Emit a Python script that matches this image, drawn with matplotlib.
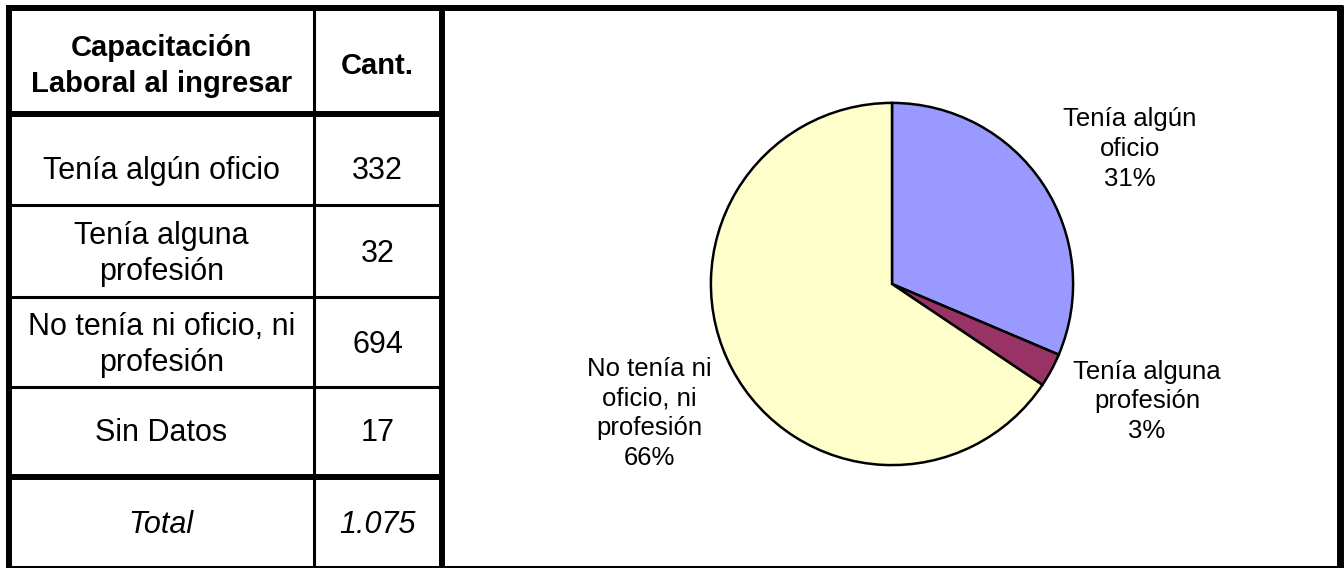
import numpy as np
import matplotlib.pyplot as plt

plt.rcParams['font.family'] = ['Liberation Sans', 'DejaVu Sans']

# datos de la tabla
header = ["Capacitación\nLaboral al ingresar", "Cant."]
categorias = ["Tenía algún oficio", "Tenía alguna\nprofesión",
              "No tenía ni oficio, ni\nprofesión", "Sin Datos"]
cantidades = [332, 32, 694, 17]
total_txt = ["Total", "1.075"]

# datos del grafico (sin "Sin Datos")
pie_valores = [332, 32, 694]
pie_nombres = ["Tenía algún\noficio", "Tenía alguna\nprofesión", "No tenía ni\noficio, ni\nprofesión"]
pie_colores = ['#9999FF', '#993366', '#FFFFCC']

W, H = 1344, 568
fig = plt.figure(figsize=(W / 100, H / 100), dpi=100)
fig.patch.set_facecolor('white')

# capa en pixeles para la tabla y los bordes
ax = fig.add_axes([0, 0, 1, 1])
ax.set_xlim(0, W)
ax.set_ylim(H, 0)
ax.axis('off')

filas = [114, 205, 297, 387, 477, 567]   # limites de filas
col_x = [9, 313.5, 442]                   # limites de columnas
gruesa = 4.3
fina = 2.2

# bordes exteriores
ax.plot([9, 9], [8, H], color='k', lw=gruesa, solid_capstyle='butt')
ax.plot([6, 1343], [8, 8], color='k', lw=gruesa, solid_capstyle='butt')
ax.plot([1339.5, 1339.5], [5, H], color='k', lw=5, solid_capstyle='butt')
ax.plot([442, 442], [5, H], color='k', lw=gruesa, solid_capstyle='butt')
ax.plot([313.5, 313.5], [8, H], color='k', lw=fina, solid_capstyle='butt')
ax.plot([6, 1343], [567, 567], color='k', lw=fina, solid_capstyle='butt')
for k, y in enumerate(filas[:-1]):
    lw = gruesa if k in (0, 4) else fina
    ax.plot([9, 442], [y, y], color='k', lw=lw, solid_capstyle='butt')

cx1 = (col_x[0] + col_x[1]) / 2
cx2 = (col_x[1] + col_x[2]) / 2

ax.text(cx1, 66, header[0], ha='center', va='center', fontsize=21,
        fontweight='bold', linespacing=1.4)
ax.text(cx2, 66, header[1], ha='center', va='center', fontsize=21, fontweight='bold')

centros = [171, 254, 345, 433]
for i in range(len(categorias)):
    ax.text(cx1, centros[i], categorias[i], ha='center', va='center',
            fontsize=22, linespacing=1.28)
    ax.text(cx2, centros[i], str(cantidades[i]), ha='center', va='center', fontsize=22)

ax.text(cx1, 525, total_txt[0], ha='center', va='center', fontsize=22, style='italic')
ax.text(cx2, 525, total_txt[1], ha='center', va='center', fontsize=22, style='italic')

# grafico de torta
r = 182
pcx, pcy = 892, 284
axp = fig.add_axes([(pcx - r) / W, (H - pcy - r) / H, 2 * r / W, 2 * r / H])
wedges, _ = axp.pie(pie_valores, colors=pie_colores, startangle=90, counterclock=False,
                    radius=1, wedgeprops=dict(edgecolor='black', linewidth=1.8))
axp.set_xlim(-1.005, 1.005)
axp.set_ylim(-1.005, 1.005)
axp.axis('off')

# ubicacion de las etiquetas (desvio angular y distancia al centro)
desvio = [-3.9, 3.7, 0.0]
distancia = [1.51, 1.55, 1.52]

tot = sum(pie_valores)
acum = 0
for i in range(len(pie_valores)):
    frac = pie_valores[i] / tot
    ang = np.deg2rad(90 - 360 * (acum + frac / 2) + desvio[i])
    acum += frac
    pct = int(round(100 * frac))
    d = distancia[i]
    axp.text(d * np.cos(ang), d * np.sin(ang), pie_nombres[i] + "\n" + str(pct) + "%",
             ha='center', va='center', fontsize=18.5, linespacing=1.3, clip_on=False)

fig.savefig('out.png', dpi=100)
